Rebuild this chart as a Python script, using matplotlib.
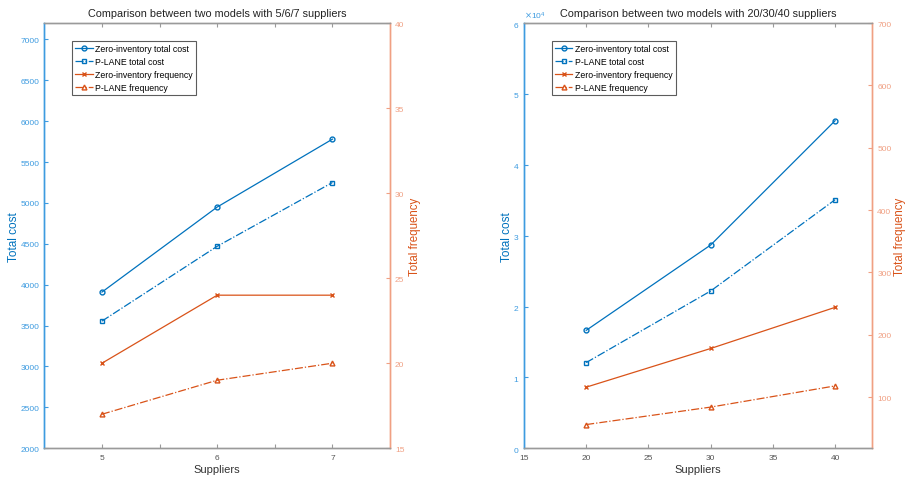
import matplotlib
matplotlib.use("Agg")
import matplotlib.pyplot as plt
from matplotlib.ticker import ScalarFormatter, FixedLocator

plt.rcParams['font.family'] = ['Liberation Sans', 'DejaVu Sans']

# ---- data ----
suppliers_small = [5, 6, 7]
zi_cost_small = [3910, 4950, 5780]
pl_cost_small = [3555, 4470, 5250]
zi_freq_small = [20, 24, 24]
pl_freq_small = [17, 19, 20]

suppliers_large = [20, 30, 40]
zi_cost_large = [16640, 28680, 46220]
pl_cost_large = [12090, 22190, 35070]
zi_freq_large = [116, 178, 244]
pl_freq_large = [56, 84, 118]

labels = ["Zero-inventory total cost", "P-LANE total cost",
          "Zero-inventory frequency", "P-LANE frequency"]
titles = ["Comparison between two models with 5/6/7 suppliers",
          "Comparison between two models with 20/30/40 suppliers"]

BLUE = '#0072BD'
ORANGE = '#D95319'
BLUE_AX = '#3d9be0'
ORANGE_AX = '#f0a083'
GRAY = '#9a9a9a'

fig = plt.figure(figsize=(9.05, 4.81), dpi=100)


def make_panel(rect, x, zc, pc, zf, pf, title, xlim, xticks, xlabels,
               ylim_l, yticks_l, ylim_r, yticks_r, sci=False, rpad=1.5):
    ax = fig.add_axes(rect)
    ax2 = ax.twinx()
    l1, = ax.plot(x, zc, '-', color=BLUE, marker='o', ms=3.5, mfc='none', lw=0.9)
    l2, = ax.plot(x, pc, '-.', color=BLUE, marker='s', ms=3, mfc='none', lw=0.9)
    l3, = ax2.plot(x, zf, '-', color=ORANGE, marker='x', ms=3.5, lw=0.9)
    l4, = ax2.plot(x, pf, '-.', color=ORANGE, marker='^', ms=3.5, mfc='none', lw=0.9)

    ax.set_xlim(*xlim)
    ax.xaxis.set_major_locator(FixedLocator(xticks))
    ax.set_xticklabels(xlabels)
    ax.set_ylim(*ylim_l)
    ax.set_yticks(yticks_l)
    ax2.set_ylim(*ylim_r)
    ax2.set_yticks(yticks_r)

    for a in (ax, ax2):
        a.spines['top'].set_color(GRAY)
        a.spines['bottom'].set_color(GRAY)
        a.spines['left'].set_color(BLUE_AX)
        a.spines['right'].set_color(ORANGE_AX)
        for s in a.spines.values():
            s.set_linewidth(1.0)

    ax.tick_params(axis='x', direction='in', length=3, colors='#555555',
                   labelsize=6, top=True, pad=4)
    ax.tick_params(axis='x', color=GRAY)
    ax.tick_params(axis='y', direction='in', length=3, color=BLUE_AX,
                   labelcolor=BLUE_AX, labelsize=6)
    ax2.tick_params(axis='y', direction='in', length=3, color=ORANGE_AX,
                    labelcolor=ORANGE_AX, labelsize=6)

    if sci:
        fmt = ScalarFormatter(useMathText=True)
        fmt.set_powerlimits((0, 0))
        ax.yaxis.set_major_formatter(fmt)
        ax.yaxis.get_offset_text().set_fontsize(6)
        ax.yaxis.get_offset_text().set_color(BLUE_AX)

    ax.set_xlabel("Suppliers", fontsize=8, color='#333333', labelpad=2)
    ax.set_ylabel("Total cost", fontsize=8.5, color=BLUE, labelpad=0)
    ax2.set_ylabel("Total frequency", fontsize=8.3, color=ORANGE, labelpad=rpad)
    ax.set_title(title, fontsize=7.8, color='#222222', y=1.0, pad=5)

    leg = ax2.legend([l1, l2, l3, l4], labels, loc='upper left',
                     bbox_to_anchor=(0.08, 0.958), fontsize=6.3, frameon=True,
                     fancybox=False, edgecolor='#333333', handlelength=2.0,
                     borderpad=0.35, labelspacing=0.45, handletextpad=0.3,
                     borderaxespad=0)
    leg.get_frame().set_linewidth(0.8)
    return ax, ax2


make_panel([0.049, 0.066, 0.382, 0.884], suppliers_small,
           zi_cost_small, pl_cost_small, zi_freq_small, pl_freq_small,
           titles[0], (4.5, 7.5), [5, 5.5, 6, 6.5, 7], ['5', '', '6', '', '7'],
           (2000, 7200), list(range(2000, 7001, 500)),
           (15, 40), list(range(15, 41, 5)), rpad=3)

make_panel([0.579, 0.066, 0.385, 0.884], suppliers_large,
           zi_cost_large, pl_cost_large, zi_freq_large, pl_freq_large,
           titles[1], (15, 43), [15, 20, 25, 30, 35, 40],
           ['15', '20', '25', '30', '35', '40'],
           (0, 60000), list(range(0, 60001, 10000)),
           (18, 700), list(range(100, 701, 100)), sci=True, rpad=1.5)

fig.savefig("out.png", dpi=100)
